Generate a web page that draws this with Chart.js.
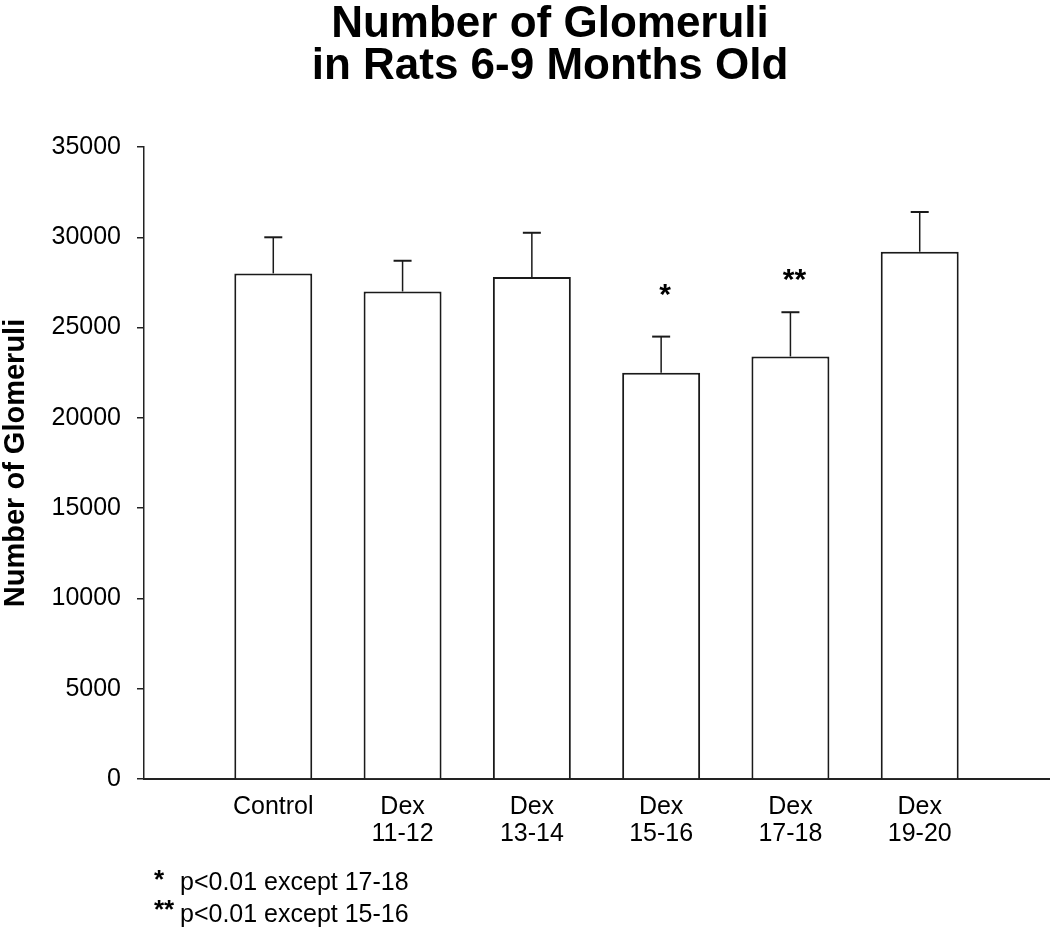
<!DOCTYPE html>
<html>
<head>
<meta charset="utf-8">
<script src="https://cdn.jsdelivr.net/npm/chart.js@4.4.1/dist/chart.umd.min.js"></script>
<style>
  html, body { margin: 0; padding: 0; background: #ffffff; }
  #wrap { width: 1050px; height: 936px; position: relative; }
</style>
</head>
<body>
<div id="wrap"><canvas id="c" width="1050" height="936"></canvas></div>
<script>
// ---- data ----
const titleLines = ['Number of Glomeruli', 'in Rats 6-9 Months Old'];
const yAxisTitle = 'Number of Glomeruli';
const categories = [['Control'], ['Dex', '11-12'], ['Dex', '13-14'], ['Dex', '15-16'], ['Dex', '17-18'], ['Dex', '19-20']];
const meanValues = [28000, 27000, 27800, 22500, 23400, 29200];
const errorValues = [2000, 1700, 2450, 2000, 2450, 2200];
const sigMarks = ['', '', '', '*', '**', ''];
const sigLevels = [null, null, null, 27100, 27900, null];
const yTickMin = 0, yTickMax = 35000, yTickStep = 5000;
const footMarks = ['*', '**'];
const footTexts = ['p<0.01 except 17-18', 'p<0.01 except 15-16'];

const FONT = "'Liberation Sans', Arial, Helvetica, sans-serif";

// padded category axis: blank slot on each side
const labels = [''].concat(categories, ['']);
const barData = [null].concat(meanValues, [null]);

const extrasPlugin = {
  id: 'extras',
  afterDatasetsDraw(chart) {
    const ctx = chart.ctx;
    const y = chart.scales.y;
    const meta = chart.getDatasetMeta(0);
    ctx.save();
    ctx.strokeStyle = '#1a1a1a';
    // error bars
    meanValues.forEach((m, i) => {
      const bar = meta.data[i + 1];
      const x = bar.x;
      const yTop = y.getPixelForValue(m + errorValues[i]);
      const yBot = y.getPixelForValue(m);
      ctx.lineWidth = 1.5;
      ctx.beginPath();
      ctx.moveTo(x, yBot);
      ctx.lineTo(x, yTop);
      ctx.stroke();
      ctx.lineWidth = 2;
      ctx.beginPath();
      ctx.moveTo(x - 9, yTop);
      ctx.lineTo(x + 9, yTop);
      ctx.stroke();
    });
    // significance marks
    ctx.fillStyle = '#000';
    ctx.font = 'bold 30px ' + FONT;
    ctx.textAlign = 'center';
    ctx.textBaseline = 'middle';
    sigMarks.forEach((s, i) => {
      if (!s) return;
      const bar = meta.data[i + 1];
      ctx.fillText(s, bar.x + 4, y.getPixelForValue(sigLevels[i]) + 6);
    });
    ctx.restore();
  },
  afterDraw(chart) {
    const ctx = chart.ctx;
    ctx.save();
    ctx.fillStyle = '#000';
    // title
    ctx.font = 'bold 44px ' + FONT;
    ctx.textAlign = 'center';
    ctx.textBaseline = 'alphabetic';
    ctx.fillText(titleLines[0], 550, 37);
    ctx.fillText(titleLines[1], 550, 79);
    // footnotes
    ctx.textAlign = 'left';
    ctx.font = 'bold 26px ' + FONT;
    ctx.fillText(footMarks[0], 154, 888);
    ctx.fillText(footMarks[1], 154, 918);
    ctx.font = '25px ' + FONT;
    ctx.fillText(footTexts[0], 180, 890);
    ctx.fillText(footTexts[1], 180, 922);
    ctx.restore();
  }
};

new Chart(document.getElementById('c'), {
  type: 'bar',
  data: {
    labels: labels,
    datasets: [{
      data: barData,
      backgroundColor: '#ffffff',
      borderColor: '#1a1a1a',
      borderWidth: 2,
      barPercentage: 0.603,
      categoryPercentage: 1.0
    }]
  },
  options: {
    responsive: false,
    animation: false,
    devicePixelRatio: 1,
    layout: { padding: { top: 147, left: 0, right: 1, bottom: 57 } },
    plugins: {
      legend: { display: false },
      title: { display: false },
      tooltip: { enabled: false }
    },
    scales: {
      x: {
        type: 'category',
        offset: false,
        grid: { display: false },
        border: { display: true, color: '#222', width: 2 },
        ticks: {
          color: '#000',
          font: { family: FONT, size: 25, lineHeight: 1.08 },
          padding: 7,
          maxRotation: 0,
          autoSkip: false
        },
        afterFit(scale) {
          scale.height = 100;
          scale.paddingLeft = 0;
          scale.paddingRight = 0;
        }
      },
      y: {
        min: yTickMin,
        max: yTickMax,
        grid: { drawOnChartArea: false, drawTicks: true, tickLength: 7, color: '#222', lineWidth: 1.5 },
        border: { display: true, color: '#222', width: 1.5 },
        ticks: {
          stepSize: yTickStep,
          color: '#000',
          font: { family: FONT, size: 25 },
          padding: 16,
          callback: (v) => String(v)
        },
        title: {
          display: true,
          text: yAxisTitle,
          color: '#000',
          font: { family: FONT, size: 29, weight: 'bold', lineHeight: 1.0 },
          padding: { top: 1, bottom: 0 }
        },
        afterFit(scale) { scale.width = 144; }
      }
    }
  },
  plugins: [extrasPlugin]
});
</script>
</body>
</html>
